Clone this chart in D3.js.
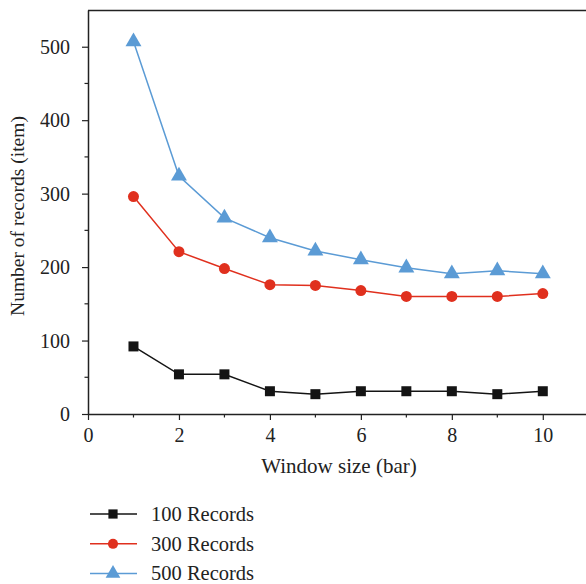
<!DOCTYPE html>
<html><head><meta charset="utf-8">
<script src="https://cdn.jsdelivr.net/npm/d3@7"></script>
<style>body{margin:0;background:#fff}svg{display:block}</style>
</head><body><svg id="c" width="586" height="584"></svg>
<script>
const windowSizes = [1,2,3,4,5,6,7,8,9,10];
const rec100 = [92,54,54,31,27,31,31,31,27,31];
const rec300 = [296,221,198,176,175,168,160,160,160,164];
const rec500 = [507,324,267,240,222,210,199,191,195,191];
const seriesNames = ["100 Records","300 Records","500 Records"];
const xTicks = [0,2,4,6,8,10];
const yTicks = [0,100,200,300,400,500];

const svg = d3.select("#c");
const font = "Liberation Serif, Times New Roman, serif";
const x = d3.scaleLinear().domain([0,10.95]).range([88,586]);
const y = d3.scaleLinear().domain([0,550]).range([414,10]);
const axisColor = "#222";

svg.append("line").attr("x1",88).attr("x2",586).attr("y1",10.5).attr("y2",10.5).attr("stroke",axisColor).attr("stroke-width",1.5);

const gx = svg.append("g").attr("transform","translate(0,414)");
gx.call(d3.axisBottom(x).tickValues(xTicks).tickSize(6).tickSizeOuter(0).tickFormat(d3.format("d")));
gx.append("g").selectAll("line").data([1,3,5,7,9]).join("line")
  .attr("x1",d=>x(d)).attr("x2",d=>x(d)).attr("y1",0).attr("y2",3.5).attr("stroke",axisColor).attr("stroke-width",1.2);
const gy = svg.append("g").attr("transform","translate(88,0)");
gy.call(d3.axisLeft(y).tickValues(yTicks).tickSize(6).tickSizeOuter(0).tickFormat(d3.format("d")));
gy.append("g").selectAll("line").data([50,150,250,350,450]).join("line")
  .attr("y1",d=>y(d)).attr("y2",d=>y(d)).attr("x1",0).attr("x2",-3.5).attr("stroke",axisColor).attr("stroke-width",1.2);

[gx,gy].forEach(g=>{
  g.select(".domain").attr("stroke",axisColor).attr("stroke-width",1.5);
  g.selectAll(".tick line").attr("stroke",axisColor).attr("stroke-width",1.2);
  g.selectAll(".tick text").attr("font-family",font).attr("font-size",20).attr("fill","#222");
});
gx.selectAll(".tick text").attr("dy","0.95em");
gy.selectAll(".tick text").attr("x",-18).attr("dy","0.33em");

svg.append("text").attr("x",339).attr("y",473).attr("text-anchor","middle")
  .attr("font-family",font).attr("font-size",21).attr("fill","#222").text("Window size (bar)");
svg.append("text").attr("transform","translate(24,216) rotate(-90)").attr("text-anchor","middle")
  .attr("font-family",font).attr("font-size",19.5).attr("fill","#222").text("Number of records (item)");

const series = [
  {name:seriesNames[0], vals:rec100, color:"#141414", sym:d3.symbolSquare, size:100},
  {name:seriesNames[1], vals:rec300, color:"#e0301e", sym:d3.symbolCircle, size:95},
  {name:seriesNames[2], vals:rec500, color:"#5b9bd5", sym:d3.symbolTriangle, size:110}
];
const line = d3.line().x((d,i)=>x(windowSizes[i])).y(d=>y(d));
series.forEach(s=>{
  svg.append("path").datum(s.vals).attr("d",line).attr("fill","none").attr("stroke",s.color).attr("stroke-width",1.5);
  svg.append("g").selectAll("path").data(s.vals).join("path")
    .attr("transform",(d,i)=>`translate(${x(windowSizes[i])},${y(d)})`)
    .attr("d",d3.symbol().type(s.sym).size(s.size)).attr("fill",s.color);
});

const lg = svg.append("g");
series.forEach((s,i)=>{
  const yy = 514 + i*29.8;
  lg.append("line").attr("x1",90).attr("x2",137).attr("y1",yy).attr("y2",yy).attr("stroke",s.color).attr("stroke-width",1.5);
  lg.append("path").attr("transform",`translate(113,${yy})`).attr("d",d3.symbol().type(s.sym).size(s.size*0.85)).attr("fill",s.color);
  lg.append("text").attr("x",151).attr("y",yy).attr("dy","0.33em").attr("font-family",font).attr("font-size",20.5).attr("fill","#222").text(s.name);
});
</script></body></html>
